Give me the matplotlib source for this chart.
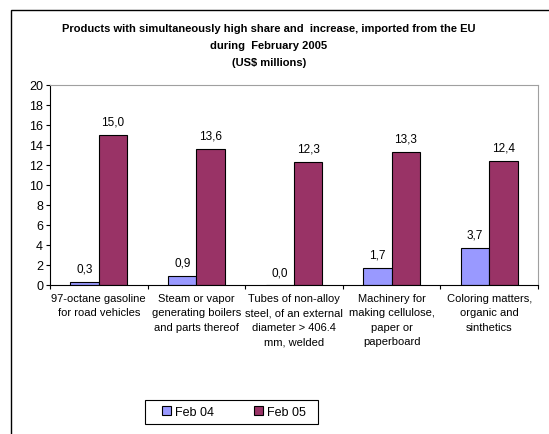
import numpy as np
import matplotlib.pyplot as plt
from matplotlib.patches import Rectangle

plt.rcParams['font.family'] = ['Liberation Sans', 'DejaVu Sans']

categories = [
    "97-octane gasoline\nfor road vehicles",
    "Steam or vapor\ngenerating boilers\nand parts thereof",
    "Tubes of non-alloy\nsteel, of an external\ndiameter > 406.4\nmm, welded",
    "Machinery for\nmaking cellulose,\npaper or\npaperboard",
    "Coloring matters,\norganic and\nsinthetics",
]
feb04 = [0.3, 0.9, 0.0, 1.7, 3.7]
feb05 = [15.0, 13.6, 12.3, 13.3, 12.4]
series_names = ["Feb 04", "Feb 05"]

W, H = 549, 435
fig = plt.figure(figsize=(W / 100, H / 100), dpi=100)

# outer chart frame (runs off the right and bottom edges)
fig.patches.append(Rectangle((11 / W, -0.05), 1.2, 1 - 11 / H + 0.05,
                             transform=fig.transFigure, fill=False,
                             edgecolor='black', linewidth=1.0))

ax = fig.add_axes([50 / W, 1 - 286 / H, (538 - 50) / W, (286 - 86) / H])

x = np.arange(len(categories))
w = 0.29
b1 = ax.bar(x - w / 2, feb04, w, color='#9999FF', edgecolor='black',
            linewidth=0.8, label=series_names[0])
b2 = ax.bar(x + w / 2, feb05, w, color='#993366', edgecolor='black',
            linewidth=0.8, label=series_names[1])

for bars, vals in ((b1, feb04), (b2, feb05)):
    for r, v in zip(bars, vals):
        ax.text(r.get_x() + r.get_width() / 2, v + 0.7,
                f"{v:.1f}".replace('.', ','),
                ha='center', va='bottom', fontsize=8.5)

ax.set_xlim(-0.5, len(categories) - 0.5)
ax.set_ylim(0, 20)
ax.set_yticks(range(0, 21, 2))
ax.tick_params(axis='y', labelsize=9, length=3, width=0.8, pad=2)
ax.set_xticks(np.arange(len(categories) + 1) - 0.5)
ax.set_xticklabels([])
ax.tick_params(axis='x', length=3, width=0.8, direction='out')
for i, c in enumerate(categories):
    ax.text(i, -0.75, c, ha='center', va='top', fontsize=8,
            linespacing=1.58)

for s in ('top', 'right'):
    ax.spines[s].set_color('#a0a0a0')
    ax.spines[s].set_linewidth(0.8)
for s in ('left', 'bottom'):
    ax.spines[s].set_linewidth(0.8)

fig.text(269 / W, 1 - 24.5 / H,
         "Products with simultaneously high share and  increase, imported from the EU\n"
         "during  February 2005\n(US$ millions)",
         ha='center', va='top', fontsize=8, fontweight='bold', linespacing=1.85)

# legend box drawn separately so its padding can be set per side
fig.patches.append(Rectangle((145 / W, 1 - 425 / H), 173 / W, 24 / H,
                             transform=fig.transFigure, fill=False,
                             edgecolor='black', linewidth=0.8))
leg = fig.legend(handles=[b1, b2], loc='center', ncol=2,
                 bbox_to_anchor=(234 / W, 1 - 413 / H), frameon=False,
                 fontsize=9, handlelength=0.7, handleheight=0.7,
                 handletextpad=0.35, columnspacing=3.2, borderpad=0.2)

fig.savefig('out.png', dpi=100)
